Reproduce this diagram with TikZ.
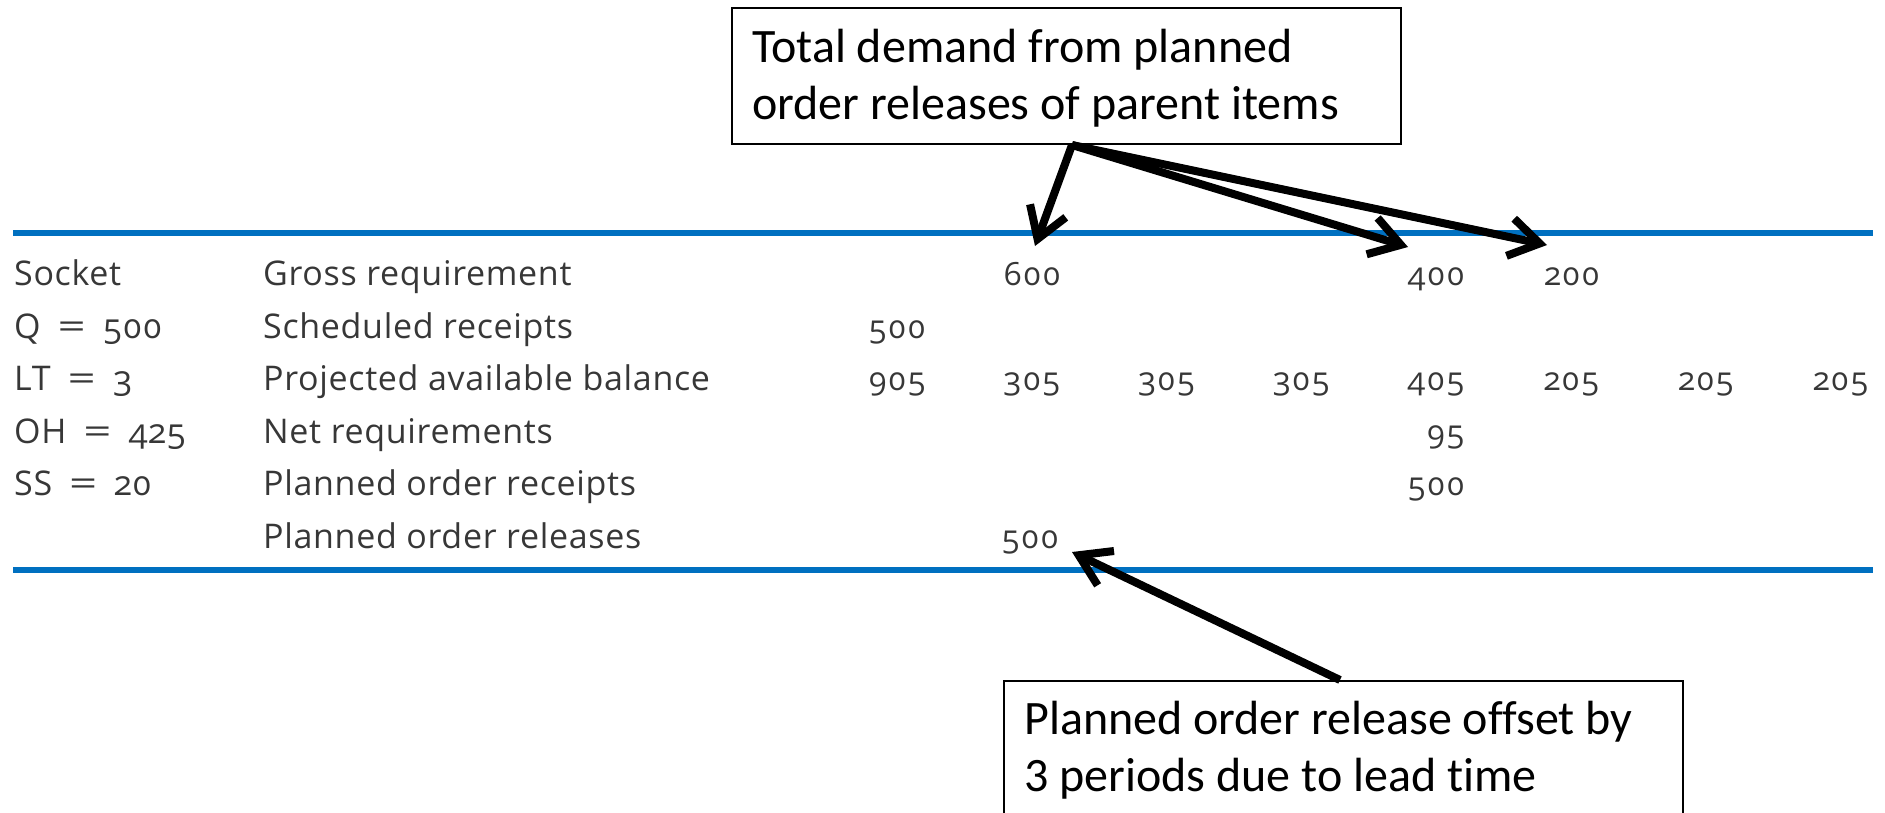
\documentclass[tikz,border=0pt]{standalone}
\usepackage{fontspec}
\usepackage{graphicx}
\setmainfont{Carlito}[Ligatures=NoCommon]
\newfontfamily\tabfont[Numbers=OldStyle,LetterSpace=2]{Open Sans}
\newfontfamily\numfont[Numbers=OldStyle,LetterSpace=4]{Open Sans}
\usetikzlibrary{arrows.meta}
\definecolor{rulecol}{RGB}{0,112,192}
\definecolor{tabtext}{RGB}{55,55,55}
\newcommand{\eqsign}{\enspace\scalebox{1.45}[1]{=}\enspace}

\begin{document}
\begin{tikzpicture}[x=1pt,y=-1pt,
  rule/.style={rulecol,line width=6pt},
  lbl/.style={anchor=base west,inner sep=0pt,text=tabtext,font=\tabfont\fontsize{34}{34}\selectfont},
  num/.style={anchor=base east,inner sep=0pt,text=tabtext,font=\numfont\fontsize{32}{32}\selectfont},
  note/.style={draw,line width=2pt,anchor=north west,inner sep=0pt},
  notetext/.style={anchor=base west,inner sep=0pt,align=left,font=\fontsize{48}{57}\selectfont},
  callout/.style={line width=8pt,-{Straight Barb[length=30pt,width=38pt]}}]
\useasboundingbox (0,0) rectangle (1885,812);
\draw[rule] (13,233)--(1873,233);
\draw[rule] (13,570)--(1873,570);
% item data
\node[lbl] (item) at (14,285) {Socket};
\node[lbl] (lot) at (14,338) {Q\eqsign 500};
\node[lbl] (lead) at (14,390) {LT\eqsign 3};
\node[lbl] (onhand) at (14,443) {OH\eqsign 425};
\node[lbl] (safety) at (14,495) {SS\eqsign 20};
% row names
\node[lbl] (gross) at (263,285) {Gross requirement};
\node[lbl] (sched) at (263,338) {Scheduled receipts};
\node[lbl] (proj) at (263,390) {Projected available balance};
\node[lbl] (net) at (263,443) {Net requirements};
\node[lbl] (rcpt) at (263,495) {Planned order receipts};
\node[lbl] (rels) at (263,548) {Planned order releases};
% entries
\node[num] (gr1) at (1061,285) {600};
\node[num] (gr4) at (1465,285) {400};
\node[num] (gr5) at (1600,285) {200};
\node[num] (sr0) at (926,338) {500};
\foreach \v [count=\i from 0] in {905,305,305,305,405,205,205,205}
  \node[num] (pab\i) at (926+134.7*\i,390) {\v};
\node[num] (nr4) at (1465,443) {95};
\node[num] (por4) at (1465,495) {500};
\node[num] (rel1) at (1059,548) {500};
% callouts
\node[note,minimum width=669pt,minimum height=136pt] (demandbox) at (731,7) {};
\node[notetext] (demandtext) at (752,119) {Total demand from planned\\order releases of parent items};
\node[note,minimum width=679pt,minimum height=200pt] (offsetbox) at (1003,680) {};
\node[notetext] (offsettext) at (1024,791) {Planned order release offset by\\3 periods due to lead time};
\coordinate (fork) at ([xshift=341pt]demandbox.south west);
\coordinate (tipA) at (1035,246);
\coordinate (tipB) at (1408,247);
\coordinate (tipC) at (1547,245);
\coordinate (start) at ([xshift=337pt]offsetbox.north west);
\coordinate (tipD) at (1072,552);
\draw[callout] (fork)--(tipA);
\draw[callout] (fork)--(tipB);
\draw[callout] (fork)--(tipC);
\draw[callout] (start)--(tipD);
\end{tikzpicture}
\end{document}
